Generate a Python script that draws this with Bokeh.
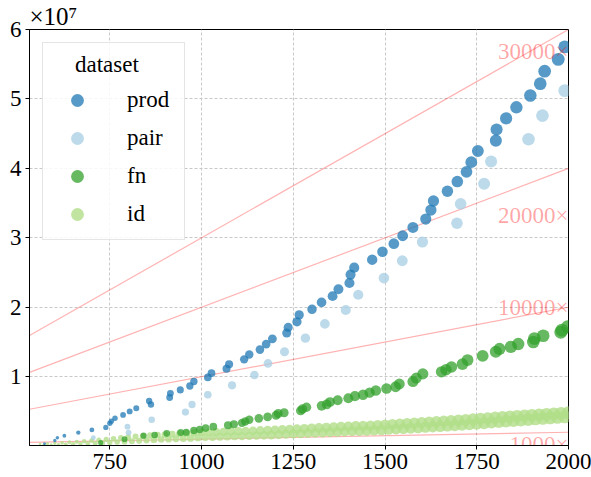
import math
from bokeh.plotting import figure
from bokeh.models import Range1d, FixedTicker, Legend, LegendItem, ColumnDataSource, Title
from bokeh.core.properties import value
from bokeh.embed import file_html
from bokeh.resources import INLINE

FONT = "Liberation Serif"

# ---------------- data (y values in units of 1e7) ----------------
prod_x = [572, 600, 607, 626, 664, 701, 739, 750, 754, 764,
          786, 804, 822, 857, 862, 913, 915, 942, 968, 979,
          1017, 1027, 1068, 1075, 1116, 1130, 1159, 1176, 1193, 1232,
          1236, 1260, 1266, 1301, 1327, 1357, 1373, 1403, 1406, 1416,
          1465, 1493, 1524, 1548, 1576, 1611, 1625, 1632, 1670, 1697,
          1722, 1735, 1753, 1802, 1804, 1830, 1858, 1896, 1923, 1935,
          1972, 1990]
prod_y = [0.033, 0.08, 0.12, 0.15, 0.195, 0.234, 0.27, 0.33, 0.36, 0.40,
          0.45, 0.50, 0.545, 0.65, 0.60, 0.70, 0.76, 0.81, 0.866, 0.93,
          0.99, 1.05, 1.115, 1.18, 1.25, 1.32, 1.39, 1.47, 1.545, 1.63,
          1.71, 1.79, 1.89, 1.97, 2.07, 2.16, 2.26, 2.35, 2.47, 2.57,
          2.685, 2.80, 2.915, 3.03, 3.15, 3.27, 3.40, 3.53, 3.67, 3.81,
          3.95, 4.09, 4.25, 4.40, 4.56, 4.72, 4.88, 5.05, 5.22, 5.40,
          5.57, 5.75]

pair_x = [705, 798, 801, 864, 956, 974, 1017, 1083, 1144, 1181,
          1226, 1283, 1336, 1393, 1427, 1497, 1547, 1602, 1696, 1706,
          1770, 1789, 1891, 1929, 1990]
pair_y = [0.12, 0.28, 0.195, 0.38, 0.49, 0.60, 0.74, 0.875, 1.025, 1.19,
          1.36, 1.555, 1.76, 1.96, 2.18, 2.42, 2.67, 2.94, 3.21, 3.49,
          3.78, 4.10, 4.42, 4.76, 5.12]

fn_x = [725, 790, 842, 872, 905, 943, 958, 979, 995, 1011,
        1032, 1072, 1088, 1110, 1119, 1130, 1156, 1180, 1203, 1209,
        1225, 1270, 1275, 1286, 1327, 1341, 1350, 1371, 1400, 1418,
        1440, 1458, 1475, 1504, 1529, 1539, 1576, 1585, 1603, 1654,
        1666, 1681, 1711, 1725, 1766, 1802, 1812, 1843, 1863, 1904,
        1907, 1931, 1979, 1982, 1998]
fn_y = [0.05, 0.10, 0.15, 0.16, 0.185, 0.195, 0.20, 0.225, 0.24, 0.26,
        0.28, 0.30, 0.315, 0.335, 0.355, 0.38, 0.40, 0.42, 0.445, 0.47,
        0.48, 0.51, 0.535, 0.56, 0.58, 0.60, 0.635, 0.66, 0.69, 0.72,
        0.74, 0.77, 0.80, 0.83, 0.855, 0.895, 0.93, 0.98, 1.04, 1.07,
        1.10, 1.14, 1.18, 1.24, 1.30, 1.36, 1.40, 1.43, 1.47, 1.50,
        1.55, 1.59, 1.64, 1.67, 1.72]

id_x = [560, 570, 580, 590,
        600, 610, 620, 630, 640, 650, 660, 670, 680, 690,
        700, 710, 720, 730, 740, 750, 760, 770, 780, 790,
        800, 810, 820, 830, 840, 850, 860, 870, 880, 890,
        900, 910, 920, 930, 940, 950, 960, 970, 980, 990,
        1000, 1010, 1020, 1030, 1040, 1050, 1060, 1070, 1080, 1090,
        1100, 1110, 1120, 1130, 1140, 1150, 1160, 1170, 1180, 1190,
        1200, 1210, 1220, 1230, 1240, 1250, 1260, 1270, 1280, 1290,
        1300, 1310, 1320, 1330, 1340, 1350, 1360, 1370, 1380, 1390,
        1400, 1410, 1420, 1430, 1440, 1450, 1460, 1470, 1480, 1490,
        1500, 1510, 1520, 1530, 1540, 1550, 1560, 1570, 1580, 1590,
        1600, 1610, 1620, 1630, 1640, 1650, 1660, 1670, 1680, 1690,
        1700, 1710, 1720, 1730, 1740, 1750, 1760, 1770, 1780, 1790,
        1800, 1810, 1820, 1830, 1840, 1850, 1860, 1870, 1880, 1890,
        1900, 1910, 1920, 1930, 1940, 1950, 1960, 1970, 1980, 1990,
        2000]
id_y = [0.030, 0.015, 0.036, 0.018,
        0.042, 0.020, 0.048, 0.024, 0.055, 0.028, 0.062, 0.032, 0.070, 0.036,
        0.078, 0.040, 0.088, 0.046, 0.098, 0.052, 0.108, 0.058, 0.118, 0.064,
        0.128, 0.070, 0.138, 0.076, 0.145, 0.083, 0.152, 0.090, 0.158, 0.095,
        0.165, 0.100, 0.172, 0.105, 0.178, 0.110, 0.185, 0.115, 0.192, 0.122,
        0.198, 0.128, 0.200, 0.130, 0.205, 0.135, 0.208, 0.138, 0.212, 0.142,
        0.215, 0.145, 0.220, 0.148, 0.222, 0.152, 0.226, 0.156, 0.230, 0.160,
        0.233, 0.165, 0.238, 0.170, 0.243, 0.175, 0.248, 0.180, 0.252, 0.185,
        0.258, 0.190, 0.262, 0.195, 0.268, 0.200, 0.272, 0.205, 0.278, 0.210,
        0.283, 0.215, 0.288, 0.218, 0.292, 0.222, 0.296, 0.227, 0.302, 0.232,
        0.308, 0.240, 0.314, 0.246, 0.320, 0.252, 0.327, 0.258, 0.333, 0.264,
        0.338, 0.272, 0.344, 0.278, 0.352, 0.284, 0.358, 0.292, 0.366, 0.298,
        0.372, 0.306, 0.380, 0.314, 0.388, 0.322, 0.396, 0.330, 0.403, 0.340,
        0.410, 0.348, 0.417, 0.356, 0.424, 0.364, 0.431, 0.372, 0.438, 0.380,
        0.445, 0.390, 0.452, 0.398, 0.458, 0.406, 0.465, 0.414, 0.472, 0.422,
        0.480]

ref_factors = [1000, 10000, 20000, 30000]
ref_labels = ["1000\u00d7", "10000\u00d7", "20000\u00d7", "30000\u00d7"]
ref_label_y = [0.024, 2.0, 3.32, 5.68]

x_ticks = [750, 1000, 1250, 1500, 1750, 2000]
y_ticks = [1, 2, 3, 4, 5, 6]
x_lo, x_hi = 531, 2000
y_lo, y_hi = 0.009, 6.0

series = [("prod", prod_x, prod_y, "#1f78b4"),
          ("pair", pair_x, pair_y, "#a6cee3"),
          ("fn", fn_x, fn_y, "#33a02c"),
          ("id", id_x, id_y, "#b2df8a")]

# ---------------- figure ----------------
W, H = 591, 477
TOP, BOTTOM, LEFT, RIGHT = 29, 32, 29, 23

p = figure(width=W, height=H, output_backend="svg", toolbar_location=None,
           x_range=Range1d(x_lo, x_hi), y_range=Range1d(y_lo, y_hi),
           min_border_left=LEFT, min_border_right=RIGHT,
           min_border_top=TOP, min_border_bottom=BOTTOM)
p.title = Title(text="\u00d710\u2077", text_font=FONT, text_font_size="25px",
                text_font_style="normal", text_color="black", align="left",
                offset=0, standoff=0)

p.background_fill_color = "white"
p.border_fill_color = "white"
p.outline_line_color = "black"
p.outline_line_width = 1

for ax in (p.xaxis[0], p.yaxis[0]):
    ax.major_label_text_font = FONT
    ax.major_label_text_font_size = "23px"
    ax.major_label_text_color = "black"
    ax.axis_line_color = "black"
    ax.major_tick_line_color = "black"
    ax.major_tick_out = 4
    ax.major_tick_in = 0
    ax.minor_tick_line_color = None
    ax.major_label_standoff = 4
p.xaxis.ticker = FixedTicker(ticks=x_ticks)
p.yaxis.ticker = FixedTicker(ticks=y_ticks)
p.xaxis.major_label_overrides = {t: str(t) for t in x_ticks}
p.yaxis.major_label_overrides = {t: str(t) for t in y_ticks}

p.grid.grid_line_color = "#c8c8c8"
p.grid.grid_line_dash = "3 2"
p.grid.grid_line_width = 1

# reference lines k * x
for k in ref_factors:
    p.line([x_lo, x_hi], [k * x_lo / 1e7, k * x_hi / 1e7],
           line_color="red", line_alpha=0.3, line_width=1.2)


def marker_sizes(xs):
    return [math.sqrt(6.25 + 0.112 * (x - 550)) for x in xs]


renderers = {}
for name, xs, ys, col in reversed(series):
    src = ColumnDataSource(dict(x=xs, y=ys, s=marker_sizes(xs)))
    alpha = 0.8 if name == "id" else 0.75
    renderers[name] = p.scatter("x", "y", size="s", source=src, fill_color=col,
                                fill_alpha=alpha, line_color=None)

# reference labels
lab_src = ColumnDataSource(dict(x=[x_hi] * len(ref_labels), y=ref_label_y, t=ref_labels))
p.text("x", "y", text="t", source=lab_src, text_align="right", text_baseline="alphabetic",
       text_font=value(FONT), text_font_size="23px", text_color="red", text_alpha=0.36)

legend = Legend(items=[LegendItem(label=n, renderers=[renderers[n]]) for n, _, _, _ in series],
                location="top_left", title="\u00a0\u00a0\u00a0\u00a0dataset")
legend.title_text_font = FONT
legend.title_text_font_size = "23px"
legend.title_text_font_style = "normal"
legend.title_text_color = "black"
legend.title_standoff = 6
legend.label_text_font = FONT
legend.label_text_font_size = "23px"
legend.label_text_color = "black"
legend.glyph_width = 50
legend.glyph_height = 32
legend.label_height = 32
legend.label_width = 48
legend.label_standoff = 25
legend.spacing = 6
legend.padding = 9
legend.margin = 13
legend.border_line_color = "#cccccc"
legend.border_line_width = 1
legend.background_fill_color = "white"
legend.background_fill_alpha = 0.85
p.add_layout(legend)

open("out.html", "w").write(file_html(p, INLINE))
